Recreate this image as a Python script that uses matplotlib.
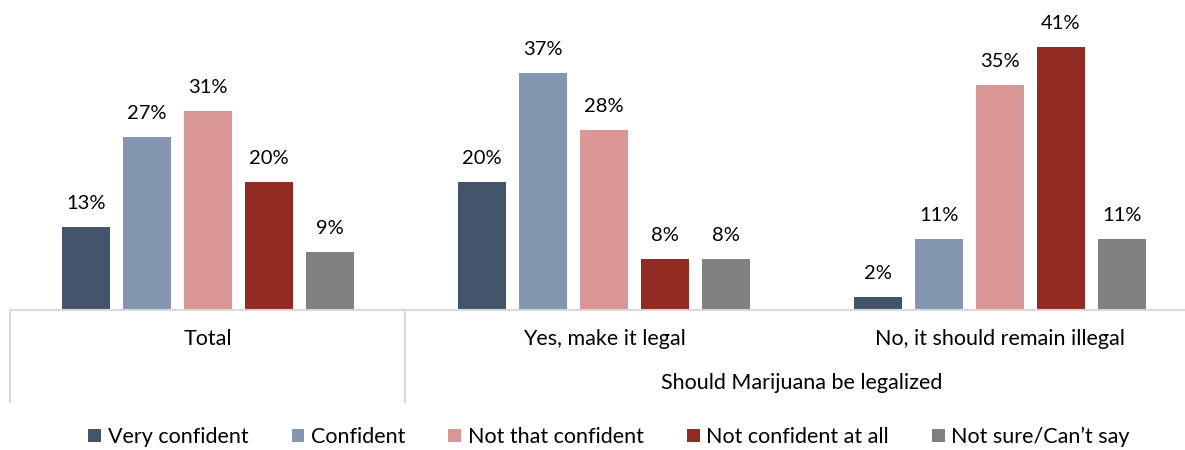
import matplotlib

matplotlib.use("Agg")
import matplotlib.pyplot as plt
from matplotlib.lines import Line2D
from matplotlib.patches import Patch

plt.rcParams["font.family"] = ["Lato", "DejaVu Sans"]

# ------------------------------------------------------------------ datos
groups = ["Total", "Yes, make it legal", "No, it should remain illegal"]
series = ["Very confident", "Confident", "Not that confident",
          "Not confident at all", "Not sure/Can\u2019t say"]
very_confident = [13, 20, 2]
confident = [27, 37, 11]
not_that_confident = [31, 28, 35]
not_confident_at_all = [20, 8, 41]
not_sure = [9, 8, 11]
values = [very_confident, confident, not_that_confident,
          not_confident_at_all, not_sure]
colors = ["#44546A", "#8497B0", "#DA9694", "#922B21", "#808080"]
super_label = "Should Marijuana be legalized"

W, H = 1185, 450
fig = plt.figure(figsize=(W / 100, H / 100), dpi=100)
# el área de trazado se sale un poco por la derecha, como en el original
ax = fig.add_axes([10 / W, (H - 310) / H, 1188 / W, 308 / H])
ax.set_xlim(0, 3)
ax.set_ylim(0, 48)

bar_w = 48 / 396
step = 61 / 396
for k, (name, vals, col) in enumerate(zip(series, values, colors)):
    xs = [g + 0.5 + (k - 2) * step for g in range(len(groups))]
    bars = ax.bar(xs, vals, width=bar_w, color=col, label=name)
    for b, v in zip(bars, vals):
        ax.annotate(f"{v}%", (b.get_x() + b.get_width() / 2, v),
                    xytext=(0, 13), textcoords="offset points",
                    ha="center", va="baseline", fontsize=14.5, color="#000000")

for s in ax.spines.values():
    s.set_visible(False)
ax.set_xticks([])
ax.set_yticks([])

# ----------------------------------------- eje de categorías tipo tabla
line_col = "#D9D9D9"
fig.add_artist(Line2D([10 / W, 1], [(H - 310) / H] * 2, color=line_col, lw=1.5))
for xp in (10, 405):
    fig.add_artist(Line2D([xp / W] * 2, [(H - 310) / H, (H - 402) / H],
                          color=line_col, lw=1.5))

for g, name in enumerate(groups):
    ax.text(g + 0.5, -29 / 308 * 48, name, ha="center", va="center",
            fontsize=15.5)
ax.text(2.0, -73 / 308 * 48, super_label, ha="center", va="center",
        fontsize=15.5)
for t in ax.texts:
    t.set_clip_on(False)

handles = [Patch(facecolor=c, edgecolor="none") for c in colors]
fig.legend(handles, series, loc="center", bbox_to_anchor=(609 / W, 1 - 437 / H),
           ncol=5, frameon=False, fontsize=15.5, handlelength=0.6,
           handleheight=0.6, handletextpad=0.3, columnspacing=2.0,
           borderaxespad=0)

fig.savefig("out.png", dpi=100)
